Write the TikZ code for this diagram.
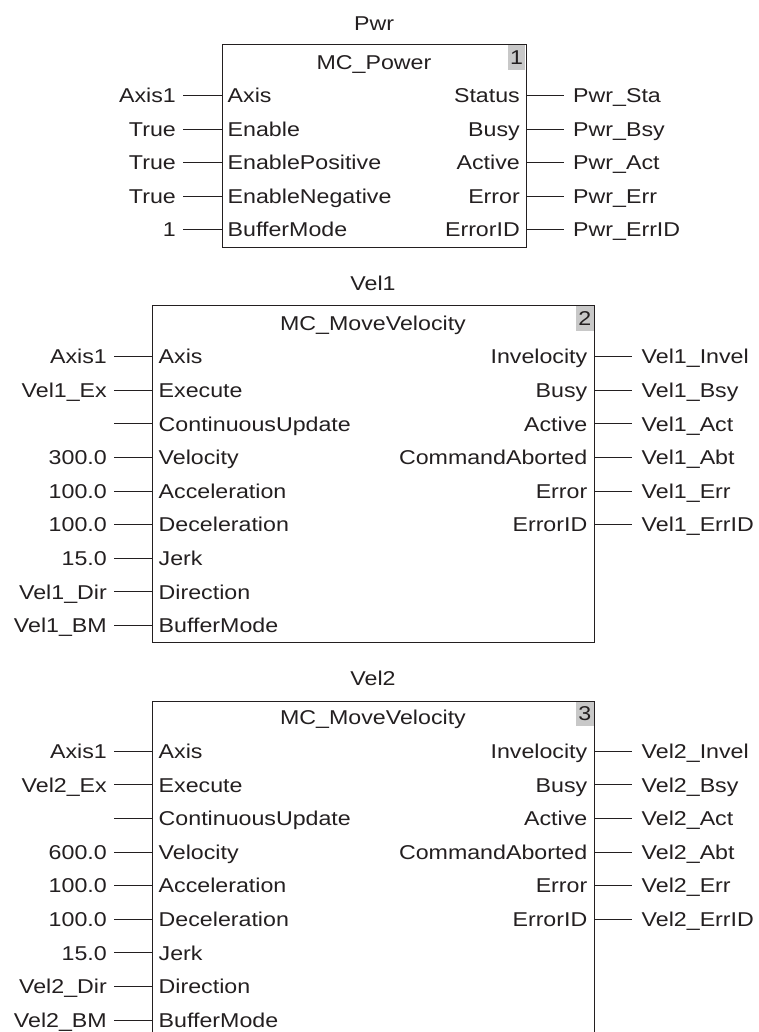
\documentclass[tikz,border=0pt]{standalone}
\usepackage{fontspec}
\setmainfont[FakeStretch=1.16]{Liberation Sans}
\definecolor{ink}{HTML}{231F20}
\definecolor{numgray}{HTML}{C8C8C8}
\begin{document}
\begin{tikzpicture}[x=1pt,y=-1pt,
  font=\fontsize{20}{24}\selectfont, text=ink,
  wire/.style={draw=ink, line width=0.9pt},
  fbbox/.style={draw=ink, line width=0.9pt, inner sep=0pt, anchor=north west},
  numbox/.style={fill=numgray, inner sep=0pt, anchor=north east, minimum width=17.5pt, minimum height=25pt},
  pinL/.style={anchor=base west, inner sep=0pt},
  pinR/.style={anchor=base east, inner sep=0pt},
  extL/.style={anchor=base east, inner sep=0pt},
  extR/.style={anchor=base west, inner sep=0pt},
  ttl/.style={anchor=base, inner sep=0pt}]
\useasboundingbox (0,0) rectangle (758,1032);
\clip (0,0) rectangle (758,1032);

% ---------------- Block 1: Pwr ----------------
\node[ttl] (t1) at (374,30.2) {Pwr};
\node[numbox] (n1) at (525.5,44.5) {1};
\node[fbbox, minimum width=304pt, minimum height=203pt] (B1) at (222,44) {};
\node[ttl] (f1) at (374,69.2) {MC\_Power};
\foreach \k/\ext/\pin in {0/Axis1/Axis, 1/True/Enable, 2/True/EnablePositive, 3/True/EnableNegative, 4/1/BufferMode}{
  \pgfmathsetmacro{\yy}{95.5+33.5*\k}
  \coordinate (b1a\k) at (222,\yy);
  \coordinate (b1e\k) at (183,\yy);
  \node[pinL] (b1p\k) at (227.5,\yy+7.2) {\pin};
  \node[extL] (b1x\k) at (176,\yy+7.2) {\ext};
  \draw[wire] (b1e\k) -- (b1a\k);
}
\foreach \k/\pin/\ext in {0/Status/Pwr\_Sta, 1/Busy/Pwr\_Bsy, 2/Active/Pwr\_Act, 3/Error/Pwr\_Err, 4/ErrorID/Pwr\_ErrID}{
  \pgfmathsetmacro{\yy}{95.5+33.5*\k}
  \coordinate (b1o\k) at (526,\yy);
  \coordinate (b1q\k) at (563.5,\yy);
  \node[pinR] (b1r\k) at (520,\yy+7.2) {\pin};
  \node[extR] (b1y\k) at (573,\yy+7.2) {\ext};
  \draw[wire] (b1o\k) -- (b1q\k);
}

% ---------------- Block 2: Vel1 ----------------
\node[ttl] (t2) at (373,290.2) {Vel1};
\node[numbox] (n2) at (593.8,305.5) {2};
\node[fbbox, minimum width=442pt, minimum height=337pt] (B2) at (152.3,305) {};
\node[ttl] (f2) at (373,330.2) {MC\_MoveVelocity};
\foreach \k/\ext/\pin in {0/Axis1/Axis, 1/Vel1\_Ex/Execute, 2//ContinuousUpdate, 3/300.0/Velocity, 4/100.0/Acceleration, 5/100.0/Deceleration, 6/15.0/Jerk, 7/Vel1\_Dir/Direction, 8/Vel1\_BM/BufferMode}{
  \pgfmathsetmacro{\yy}{356.6+33.6*\k}
  \coordinate (b2a\k) at (152.3,\yy);
  \coordinate (b2e\k) at (114.3,\yy);
  \node[pinL] (b2p\k) at (158.5,\yy+7.2) {\pin};
  \node[extL] (b2x\k) at (107,\yy+7.2) {\ext};
  \draw[wire] (b2e\k) -- (b2a\k);
}
\foreach \k/\pin/\ext in {0/Invelocity/Vel1\_Invel, 1/Busy/Vel1\_Bsy, 2/Active/Vel1\_Act, 3/CommandAborted/Vel1\_Abt, 4/Error/Vel1\_Err, 5/ErrorID/Vel1\_ErrID}{
  \pgfmathsetmacro{\yy}{356.6+33.6*\k}
  \coordinate (b2o\k) at (594.3,\yy);
  \coordinate (b2q\k) at (631.7,\yy);
  \node[pinR] (b2r\k) at (587.5,\yy+7.2) {\pin};
  \node[extR] (b2y\k) at (641.5,\yy+7.2) {\ext};
  \draw[wire] (b2o\k) -- (b2q\k);
}

% ---------------- Block 3: Vel2 ----------------
\node[ttl] (t3) at (373,685.2) {Vel2};
\node[numbox] (n3) at (593.8,701.2) {3};
\node[fbbox, minimum width=442pt, minimum height=360pt] (B3) at (152.3,700.7) {};
\node[ttl] (f3) at (373,724.9) {MC\_MoveVelocity};
\foreach \k/\ext/\pin in {0/Axis1/Axis, 1/Vel2\_Ex/Execute, 2//ContinuousUpdate, 3/600.0/Velocity, 4/100.0/Acceleration, 5/100.0/Deceleration, 6/15.0/Jerk, 7/Vel2\_Dir/Direction, 8/Vel2\_BM/BufferMode}{
  \pgfmathsetmacro{\yy}{751.3+33.6*\k}
  \coordinate (b3a\k) at (152.3,\yy);
  \coordinate (b3e\k) at (114.3,\yy);
  \node[pinL] (b3p\k) at (158.5,\yy+7.2) {\pin};
  \node[extL] (b3x\k) at (107,\yy+7.2) {\ext};
  \draw[wire] (b3e\k) -- (b3a\k);
}
\foreach \k/\pin/\ext in {0/Invelocity/Vel2\_Invel, 1/Busy/Vel2\_Bsy, 2/Active/Vel2\_Act, 3/CommandAborted/Vel2\_Abt, 4/Error/Vel2\_Err, 5/ErrorID/Vel2\_ErrID}{
  \pgfmathsetmacro{\yy}{751.3+33.6*\k}
  \coordinate (b3o\k) at (594.3,\yy);
  \coordinate (b3q\k) at (631.7,\yy);
  \node[pinR] (b3r\k) at (587.5,\yy+7.2) {\pin};
  \node[extR] (b3y\k) at (641.5,\yy+7.2) {\ext};
  \draw[wire] (b3o\k) -- (b3q\k);
}
\end{tikzpicture}
\end{document}
